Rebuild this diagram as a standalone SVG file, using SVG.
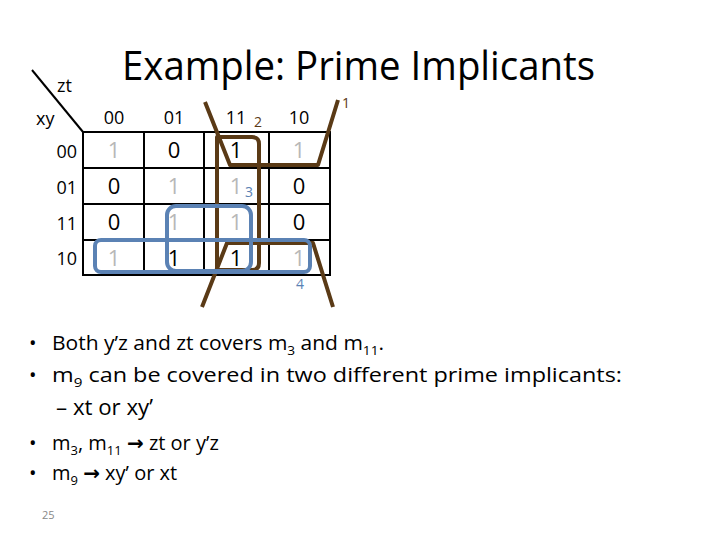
<svg xmlns="http://www.w3.org/2000/svg" width="720" height="540" viewBox="0 0 720 540">
<style>
text{font-family:"Open Sans","Liberation Sans",sans-serif}
.g{stroke:#000;stroke-width:2;fill:none}
.v{font-size:22px;text-anchor:middle}
.lt{fill:#b8b8b8}
.h{font-size:18px;text-anchor:middle}
.r{font-size:18px;text-anchor:end}
.br{stroke:#5a3a16;stroke-width:4;fill:none;stroke-linejoin:round}
.bl{stroke:#5b82b4;stroke-width:4;fill:none}
.b{font-size:20px}
.s{font-size:13px}
.ar{font-family:"DejaVu Sans",sans-serif;font-weight:bold}
</style>
<rect width="720" height="540" fill="#fff"/>
<text x="122" y="80" font-size="40" textLength="473" lengthAdjust="spacingAndGlyphs">Example: Prime Implicants</text>
<g id="kmap">
<line class="g" x1="32" y1="70" x2="83" y2="132" stroke-width="1.5"/>
<text x="57" y="92" font-size="18">zt</text>
<text x="36" y="125" font-size="18">xy</text>
<rect class="g" x="83" y="132" width="247" height="143"/>
<line class="g" x1="144" y1="132" x2="144" y2="275"/>
<line class="g" x1="204" y1="132" x2="204" y2="275"/>
<line class="g" x1="269" y1="132" x2="269" y2="275"/>
<line class="g" x1="83" y1="168" x2="330" y2="168"/>
<line class="g" x1="83" y1="204" x2="330" y2="204"/>
<line class="g" x1="83" y1="240" x2="330" y2="240"/>
<text class="h" x="114" y="124">00</text><text class="h" x="174" y="124">01</text><text class="h" x="236" y="124">11</text><text class="h" x="299" y="124">10</text>
<text class="r" x="77" y="158">00</text><text class="r" x="77" y="194">01</text><text class="r" x="77" y="230">11</text><text class="r" x="77" y="265">10</text>
<text class="v lt" x="114" y="158">1</text><text class="v" x="174" y="158">0</text><text class="v" x="236" y="158">1</text><text class="v lt" x="299" y="158">1</text>
<text class="v" x="114" y="194">0</text><text class="v lt" x="174" y="194">1</text><text class="v lt" x="236" y="194">1</text><text class="v" x="299" y="194">0</text>
<text class="v" x="114" y="230">0</text><text class="v lt" x="174" y="230">1</text><text class="v lt" x="236" y="230">1</text><text class="v" x="299" y="230">0</text>
<text class="v lt" x="114" y="266">1</text><text class="v" x="174" y="266">1</text><text class="v" x="236" y="266">1</text><text class="v lt" x="299" y="266">1</text>
</g>
<g id="implicants">
<polyline class="br" points="205,102 230,165 318,165 338,100"/>
<path class="br" d="M217,270 V137 H252 Q259,137 259,144 V263 Q259,270 252,270 Z"/>
<polyline class="br" points="202,307 227,243 313,243 333,307"/>
<rect class="bl" x="167" y="206" width="84" height="65" rx="9"/>
<rect class="bl" x="95" y="240" width="215" height="32" rx="6"/>
<text x="342" y="108" font-size="14" fill="#5a3a16">1</text>
<text x="254" y="127" font-size="14" fill="#5a3a16">2</text>
<text x="245" y="197" font-size="14" fill="#5b82b4">3</text>
<text x="296" y="289" font-size="14" fill="#5b82b4">4</text>
</g>
<g id="text">
<text class="b" x="29" y="350">•</text>
<text class="b" x="52" y="350" textLength="332" lengthAdjust="spacingAndGlyphs">Both y’z and zt covers m<tspan class="s" dy="5">3</tspan><tspan dy="-5"> and m</tspan><tspan class="s" dy="5">11</tspan><tspan dy="-5">.</tspan></text>
<text class="b" x="29" y="382">•</text>
<text class="b" x="52" y="382" textLength="570" lengthAdjust="spacingAndGlyphs">m<tspan class="s" dy="5">9</tspan><tspan dy="-5"> can be covered in two different prime implicants:</tspan></text>
<text x="56" y="415" font-size="22" textLength="97" lengthAdjust="spacingAndGlyphs">– xt or xy’</text>
<text class="b" x="29" y="450">•</text>
<text class="b" x="52" y="450">m<tspan class="s" dy="5">3</tspan><tspan dy="-5">, m</tspan><tspan class="s" dy="5">11</tspan><tspan dy="-5"> </tspan><tspan class="ar">→</tspan> zt or y’z</text>
<text class="b" x="29" y="480">•</text>
<text class="b" x="52" y="480">m<tspan class="s" dy="5">9</tspan><tspan dy="-5"> </tspan><tspan class="ar">→</tspan> xy’ or xt</text>
<text x="42" y="519" font-size="11" fill="#888">25</text>
</g>
</svg>
